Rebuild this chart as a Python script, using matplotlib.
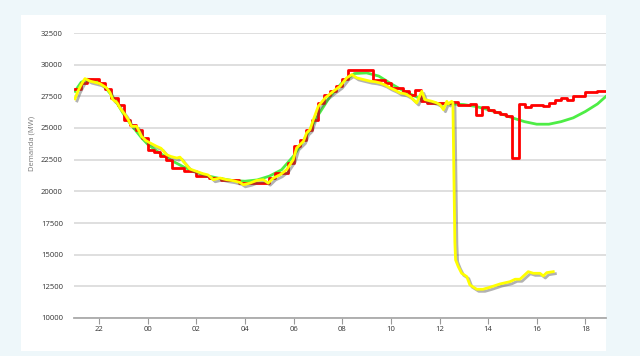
import numpy as np
import matplotlib.pyplot as plt
import matplotlib.patheffects as pe
from matplotlib.patches import Rectangle

# hours counted from 00:00 (negative = previous evening)
hour_ticks = [-2, 0, 2, 4, 6, 8, 10, 12, 14, 16, 18]
hour_labels = ['22', '00', '02', '04', '06', '08', '10', '12', '14', '16', '18']
mw_ticks = [10000, 12500, 15000, 17500, 20000, 22500, 25000, 27500, 30000, 32500]

# demanda programada (15 min steps)
prog_t = [-3.0, -2.75, -2.5, -2.25, -2.0, -1.75, -1.5, -1.25, -1.0, -0.75, -0.5, -0.25,
          0.0, 0.25, 0.5, 0.75, 1.0, 1.25, 1.5, 1.75, 2.0, 2.25, 2.5, 2.75,
          3.0, 3.25, 3.5, 3.75, 4.0, 4.25, 4.5, 4.75, 5.0, 5.25, 5.5, 5.75,
          6.0, 6.25, 6.5, 6.75, 7.0, 7.25, 7.5, 7.75, 8.0, 8.25, 8.5, 8.75,
          9.0, 9.25, 9.5, 9.75, 10.0, 10.25, 10.5, 10.75, 11.0, 11.25, 11.5, 11.75,
          12.0, 12.25, 12.5, 12.75, 13.0, 13.25, 13.5, 13.75, 14.0, 14.25, 14.5, 14.75,
          15.0, 15.25, 15.5, 15.75, 16.0, 16.25, 16.5, 16.75, 17.0, 17.25, 17.5, 17.75,
          18.0, 18.25, 18.5, 18.75, 18.85]
prog_mw = [28040, 28560, 28830, 28830, 28560, 28040, 27380, 26850, 25660, 25270, 24870, 24240,
           23290, 23100, 22760, 22500, 21840, 21840, 21570, 21570, 21230, 21230, 21050, 21050,
           20860, 20860, 20860, 20650, 20650, 20650, 20650, 20650, 21050, 21440, 21440, 22230,
           23550, 24080, 24870, 25660, 26980, 27640, 27900, 28300, 28830, 29540, 29540, 29540,
           29540, 28770, 28770, 28560, 28170, 28170, 27900, 27640, 28000, 27110, 26980, 26980,
           26980, 26980, 27030, 26850, 26850, 26900, 26060, 26670, 26400, 26250, 26090, 25980,
           22630, 26930, 26670, 26850, 26850, 26750, 26980, 27240, 27370, 27240, 27500, 27500,
           27820, 27820, 27900, 27900, 27900]

# demanda prevista
prev_t = [-3.0, -2.75, -2.5, -2.25, -2.0, -1.75, -1.5, -1.25, -1.0, -0.75, -0.5, -0.25,
          0.0, 0.5, 1.0, 1.5, 2.0, 2.5, 3.0, 3.5, 4.0, 4.5, 5.0, 5.5, 6.0, 6.5,
          7.0, 7.5, 8.0, 8.5, 9.0, 9.5, 10.0, 10.5, 11.0, 11.5, 12.0, 12.5, 13.0,
          13.5, 14.0, 14.5, 15.0, 15.5, 16.0, 16.5, 17.0, 17.5, 18.0, 18.5, 18.85]
prev_mw = [27900, 28600, 28850, 28800, 28600, 28200, 27600, 26900, 26100, 25400, 24800, 24200,
           23700, 23000, 22400, 21900, 21500, 21200, 21000, 20850, 20800, 20900, 21200, 21700,
           22800, 24300, 26000, 27500, 28600, 29300, 29350, 29100, 28500, 27950, 27500, 27100,
           26900, 26900, 26850, 26700, 26450, 26150, 25800, 25500, 25300, 25300, 25500, 25800,
           26300, 26900, 27500]

# demanda real
real_t = [-3.0, -2.88, -2.75, -2.59, -2.38, -2.17, -1.97, -1.7, -1.56, -1.44, -1.27, -1.15,
          -0.94, -0.82, -0.67, -0.46, -0.26, -0.08, 0.09, 0.36, 0.54, 0.77, 0.95, 1.19,
          1.32, 1.46, 1.73, 2.01, 2.27, 2.47, 2.69, 2.97, 3.24, 3.51, 3.79, 3.93,
          4.2, 4.48, 4.75, 4.95, 5.16, 5.44, 5.71, 5.98, 6.12, 6.4, 6.53, 6.67,
          6.81, 7.01, 7.29, 7.63, 7.91, 8.18, 8.39, 8.59, 8.86, 9.14, 9.35, 9.55,
          9.76, 9.96, 10.16, 10.37, 10.58, 10.78, 11.06, 11.27, 11.4, 11.68, 11.86, 12.02,
          12.16, 12.3, 12.36, 12.5, 12.55, 12.63, 12.66, 12.77, 12.91, 13.12, 13.25, 13.53,
          13.79, 14.08, 14.49, 14.9, 15.11, 15.31, 15.65, 15.86, 16.13, 16.27, 16.41, 16.68]
real_mw = [27300, 27900, 28400, 28900, 28700, 28600, 28500, 28170, 27800, 27240, 27000, 26600,
           26060, 25700, 25130, 25130, 24340, 24000, 23820, 23550, 23400, 22890, 22750, 22630,
           22700, 22360, 21760, 21570, 21390, 21300, 20920, 21050, 20920, 20840, 20700, 20520,
           20650, 20860, 20920, 20650, 21050, 21310, 21710, 22500, 23420, 23950, 24610, 24870,
           25660, 26710, 27370, 27900, 28300, 28960, 29220, 28960, 28830, 28700, 28650, 28560,
           28400, 28170, 28000, 27770, 27700, 27500, 26980, 27900, 27240, 27110, 27000, 26850,
           26450, 27110, 26900, 27110, 27000, 16000, 14590, 14060, 13530, 13270, 12610, 12270,
           12270, 12430, 12690, 12870, 13060, 13060, 13660, 13530, 13530, 13320, 13580, 13660]

fig = plt.figure(figsize=(6.4, 3.56), dpi=100, facecolor='#eef7fa')
# white card behind the chart
bg = fig.add_axes([21 / 640, 5 / 356, 585 / 640, 336 / 356])
bg.add_patch(Rectangle((0, 0), 1, 1, transform=bg.transAxes, facecolor='white', edgecolor='none'))
bg.set_axis_off()
bg.set_zorder(0)

ax = fig.add_axes([74 / 640, 38 / 356, 532 / 640, 285 / 356])
ax.set_zorder(1)
ax.set_facecolor('none')

ax.plot(prev_t, prev_mw, color='#4ded45', lw=2.0, zorder=3)
ax.plot(prog_t, prog_mw, color='#ff0000', lw=2.0, drawstyle='steps-post', zorder=4)
ax.plot(real_t, real_mw, color='#ffff00', lw=2.0, zorder=5,
        path_effects=[pe.SimpleLineShadow(offset=(1.5, -1.5), shadow_color='#555555', alpha=0.45),
                      pe.Normal()])

ax.set_xlim(-3.04, 18.85)
ax.set_ylim(10000, 32500)
ax.set_xticks(hour_ticks)
ax.set_xticklabels(hour_labels)
ax.set_yticks(mw_ticks)
ax.set_yticklabels([str(v) for v in mw_ticks])
ax.grid(True, axis='y', color='#d9d9d9', lw=1.2)
ax.set_axisbelow(True)

for s in ['top', 'right', 'left']:
    ax.spines[s].set_visible(False)
ax.spines['bottom'].set_color('#aaaaaa')
ax.spines['bottom'].set_linewidth(1.3)
ax.tick_params(axis='y', length=0, pad=8, labelsize=5.5, labelcolor='#333333')
ax.tick_params(axis='x', length=4, width=0.8, color='#999999', pad=2, labelsize=5.5, labelcolor='#333333')
for lab in ax.get_xticklabels() + ax.get_yticklabels():
    lab.set_family('Open Sans')

fig.text(32 / 640, 1 - 143 / 356, 'Demanda (MW)', rotation=90, ha='center', va='center',
         fontsize=5.5, color='#777777', family='Open Sans')

fig.savefig('out.png', dpi=100, facecolor=fig.get_facecolor())
